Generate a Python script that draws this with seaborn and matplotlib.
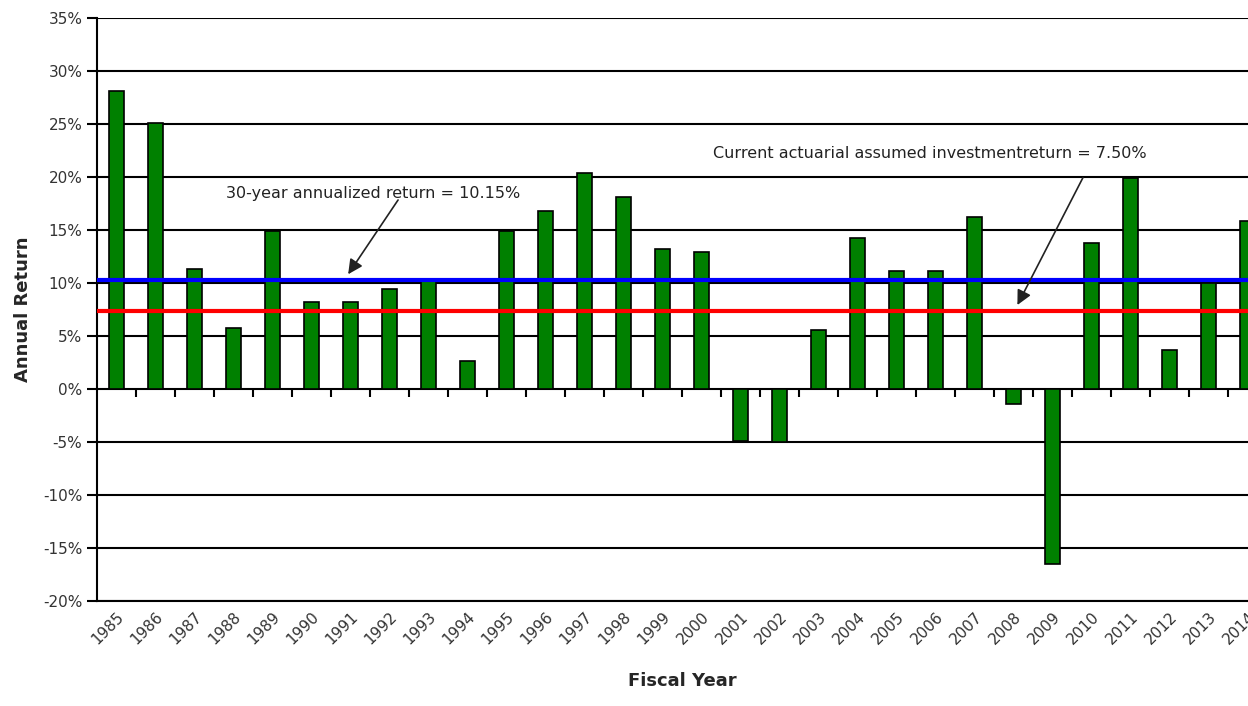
import numpy as np
import pandas as pd
import matplotlib
matplotlib.use("Agg")
import matplotlib.pyplot as plt
from matplotlib.ticker import FuncFormatter
import seaborn as sns

# Data
years = [str(y) for y in range(1985, 2015)]
returns = [28.1, 25.1, 11.3, 5.75, 14.85, 8.2, 8.2, 9.45, 10.2, 2.65,
           14.85, 16.8, 20.3, 18.1, 13.15, 12.9, -4.95, -5.0, 5.5, 14.2,
           11.1, 11.1, 16.2, -1.45, -16.5, 13.75, 19.9, 3.65, 10.0, 15.8]
annualized_return = 10.25
assumed_return = 7.3
y_ticks = list(range(-20, 40, 5))

df = pd.DataFrame({"year": years, "ret": returns})

sns.set_style("white")
plt.rcParams["font.family"] = ["DejaVu Sans"]

fig = plt.figure(figsize=(12.48, 7.06), dpi=100)
ax = fig.add_axes([97 / 1248, 1 - 601 / 706, 1170 / 1248, (601 - 17.5) / 706])

sns.barplot(data=df, x="year", y="ret", color="#008000", edgecolor="black",
            linewidth=1.2, width=0.4, saturation=1, ax=ax, zorder=3)

ax.set_ylim(-20, 35)
ax.set_xlim(-0.5, len(years) - 0.5)
ax.set_yticks(y_ticks)
ax.yaxis.set_major_formatter(FuncFormatter(lambda v, p: f"{v:.0f}%"))
ax.grid(axis="y", color="black", linewidth=1.5, zorder=0)
ax.set_axisbelow(True)

for side in ["top", "right"]:
    ax.spines[side].set_visible(False)
ax.spines["left"].set_color("black")
ax.spines["left"].set_linewidth(1.5)
ax.spines["bottom"].set_color("black")
ax.spines["bottom"].set_linewidth(1.5)

ax.tick_params(axis="y", direction="out", length=7, width=1.5, color="black",
               labelsize=11, labelcolor="#333333", left=True)
ax.tick_params(axis="x", length=0, labelsize=11, labelcolor="#333333", pad=6)
plt.setp(ax.get_xticklabels(), rotation=45, ha="right", rotation_mode="anchor")

# category ticks drawn on the zero line
sec = ax.secondary_xaxis(20 / 55)
sec.set_xticks(np.arange(0.5, len(years) - 0.5, 1))
sec.set_xticklabels([])
sec.tick_params(direction="out", length=6, width=1.5, color="black")
sec.spines["bottom"].set_visible(False)

ax.axhline(annualized_return, color="#0000ff", linewidth=3, zorder=4)
ax.axhline(assumed_return, color="#ff0000", linewidth=3, zorder=4)

arrow = dict(arrowstyle="-|>", color="#222222", lw=1.2, mutation_scale=22,
             shrinkA=0, shrinkB=0)

ax.text(6.58, 18.4, "30-year annualized return = 10.15%", ha="center",
        va="center", fontsize=11.5, color="#222222", zorder=5)
ax.annotate("", xy=(5.94, 10.8), xytext=(7.22, 17.8), arrowprops=arrow, zorder=5)

ax.text(20.86, 22.2, "Current actuarial assumed investmentreturn = 7.50%",
        ha="center", va="center", fontsize=11.5, color="#222222", zorder=5)
ax.annotate("", xy=(23.1, 7.9), xytext=(24.78, 19.9), arrowprops=arrow, zorder=5)

ax.set_xlabel("Fiscal Year", fontsize=13, fontweight="bold", labelpad=18)
ax.set_ylabel("Annual Return", fontsize=13, fontweight="bold", labelpad=8)

fig.savefig("out.png", dpi=100)
